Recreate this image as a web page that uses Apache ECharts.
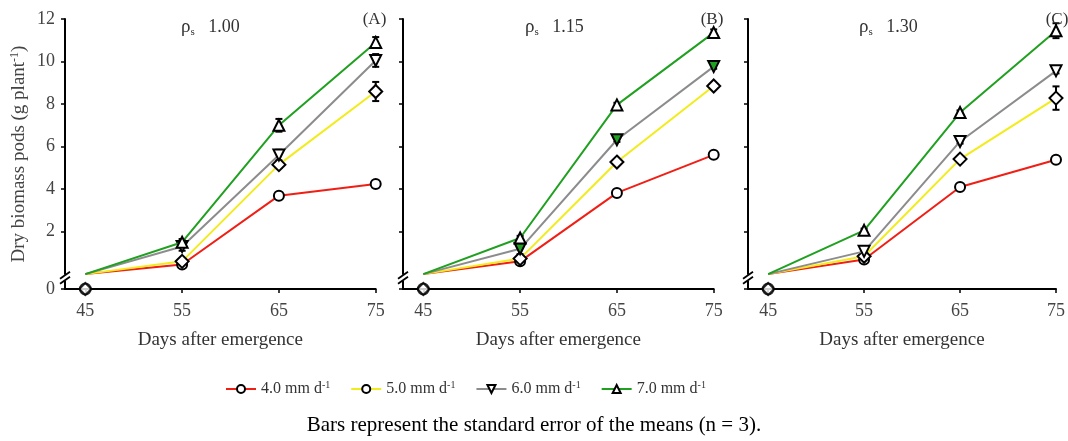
<!DOCTYPE html>
<html><head><meta charset="utf-8">
<script src="https://cdn.jsdelivr.net/npm/echarts@6/dist/echarts.min.js"></script>
<style>html,body{margin:0;padding:0;background:#fff}#c{width:1068px;height:441px}</style>
</head><body><div id="c"></div>
<script>
// ---------- data ----------
const days = [45, 55, 65, 75];
const dayTicks = [45, 55, 65, 75];
const yTicks = [0, 2, 4, 6, 8, 10, 12];
const seriesNames = ['4.0 mm d-1', '5.0 mm d-1', '6.0 mm d-1', '7.0 mm d-1'];
const panelRho = ['1.00', '1.15', '1.30'];
const panelLetters = ['(A)', '(B)', '(C)'];
const footnote = 'Bars represent the standard error of the means (n = 3).';

// Panel A (rho_s 1.00)
const a40 = [0, 0.45, 3.69, 4.24];
const a50 = [0, 0.6, 5.15, 8.59];
const a60 = [0, 1.3, 5.6, 10.05];
const a70 = [0, 1.5, 7.0, 10.9];
const a40Err = [0, 0.08, 0.08, 0.08];
const a50Err = [0, 0.08, 0.15, 0.45];
const a60Err = [0, 0.2, 0.25, 0.3];
const a70Err = [0, 0.15, 0.3, 0.25];
// Panel B (rho_s 1.15)
const b40 = [0, 0.6, 3.82, 5.61];
const b50 = [0, 0.73, 5.27, 8.85];
const b60 = [0, 1.19, 6.32, 9.76];
const b70 = [0, 1.7, 7.96, 11.36];
const b40Err = [0, 0.1, 0.15, 0.08];
const b50Err = [0, 0.08, 0.1, 0.1];
const b60Err = [0, 0.25, 0.1, 0.1];
const b70Err = [0, 0.1, 0.1, 0.15];
// Panel C (rho_s 1.30)
const c40 = [0, 0.69, 4.1, 5.38];
const c50 = [0, 0.84, 5.41, 8.28];
const c60 = [0, 1.07, 6.24, 9.56];
const c70 = [0, 2.06, 7.6, 11.45];
const c40Err = [0, 0.08, 0.08, 0.08];
const c50Err = [0, 0.08, 0.1, 0.55];
const c60Err = [0, 0.1, 0.1, 0.12];
const c70Err = [0, 0.08, 0.1, 0.35];

const panels = [
  {vals: [a40, a50, a60, a70], errs: [a40Err, a50Err, a60Err, a70Err]},
  {vals: [b40, b50, b60, b70], errs: [b40Err, b50Err, b60Err, b70Err]},
  {vals: [c40, c50, c60, c70], errs: [c40Err, c50Err, c60Err, c70Err]}
];

// ---------- style ----------
const FONT = '"Liberation Serif", "Times New Roman", serif';
const Y_MIN = -0.7;   // broken-axis bottom where the "0" label sits
const X_MIN = 42.9;
const colors = ['#f01e14', '#f2ec1c', '#8c8c8c', '#20a020'];
const symbols = ['circle', 'diamond', 'triangle', 'triangle'];
const symbolSizes = [10, 13, 11, 11];
const legendSymbols = ['circle', 'circle', 'triangle', 'triangle'];
const rotates = [0, 0, 180, 0];
const gridLefts = [65, 403, 748];
const GRID_W = 310.7, GRID_TOP = 19, GRID_H = 270;
// marker fill per panel (6.0 series is green-filled in panel B)
const markerFill = [
  ['#fff', '#fff', '#fff', '#fff'],
  ['#fff', '#fff', '#20a020', '#fff'],
  ['#fff', '#fff', '#fff', '#fff']
];

const grids = gridLefts.map(l => ({left: l, top: GRID_TOP, width: GRID_W, height: GRID_H}));
const xAxes = gridLefts.map((l, i) => ({
  type: 'value', gridIndex: i, min: X_MIN, max: 75,
  name: 'Days after emergence', nameLocation: 'middle', nameGap: 42,
  nameTextStyle: {fontFamily: FONT, fontSize: 19, color: '#333'},
  axisLine: {onZero: false, lineStyle: {color: '#000', width: 2}},
  axisTick: {show: true, customValues: dayTicks, length: 4, lineStyle: {color: '#000', width: 1.5}},
  axisLabel: {customValues: dayTicks, margin: 13, fontFamily: FONT, fontSize: 18, color: '#444'},
  splitLine: {show: false}
}));
const yCustom = yTicks.map(v => v === 0 ? Y_MIN : v);
const yAxes = gridLefts.map((l, i) => ({
  type: 'value', gridIndex: i, min: Y_MIN, max: 12,
  name: i === 0 ? 'Dry biomass pods (g plant{sup|-1}{t|)}' : '',
  nameLocation: 'middle', nameGap: 35,
  nameTextStyle: {fontFamily: FONT, fontSize: 19, color: '#444',
    rich: {sup: {fontFamily: FONT, fontSize: 12, color: '#444', padding: [0, 0, 9, 0]},
           t: {fontFamily: FONT, fontSize: 19, color: '#444'}}},
  axisLine: {onZero: false, lineStyle: {color: '#000', width: 2}},
  axisTick: {show: true, customValues: yCustom, length: 4, lineStyle: {color: '#000', width: 1.5}},
  axisLabel: {show: i === 0, customValues: yCustom, margin: 10, fontFamily: FONT, fontSize: 18, color: '#444',
    formatter: v => v < 0 ? '0' : String(Math.round(v))},
  splitLine: {show: false}
}));

const series = [];
// legend-only series (first with each name, so the legend takes their icons)
seriesNames.forEach((n, k) => {
  series.push({
    type: 'line', name: n, xAxisIndex: 0, yAxisIndex: 0, data: [],
    symbol: legendSymbols[k], symbolSize: 8, symbolRotate: rotates[k],
    lineStyle: {color: colors[k], width: 2},
    itemStyle: {color: '#fff', borderColor: '#000', borderWidth: 2}
  });
});

panels.forEach((p, pi) => {
  p.vals.forEach((vals, k) => {
    // error bars
    series.push({
      type: 'custom', name: seriesNames[k], xAxisIndex: pi, yAxisIndex: pi, z: 3,
      data: days.map((d, i) => [d, vals[i], p.errs[k][i]]).filter(r => r[2] > 0 && r[1] > 0),
      renderItem: (params, api) => {
        const x = api.value(0), y = api.value(1), e = api.value(2);
        const hi = api.coord([x, y + e]), lo = api.coord([x, y - e]);
        const cw = 3.5, st = {stroke: '#000', lineWidth: 2};
        return {type: 'group', children: [
          {type: 'line', shape: {x1: hi[0], y1: hi[1], x2: lo[0], y2: lo[1]}, style: st},
          {type: 'line', shape: {x1: hi[0] - cw, y1: hi[1], x2: hi[0] + cw, y2: hi[1]}, style: st},
          {type: 'line', shape: {x1: lo[0] - cw, y1: lo[1], x2: lo[0] + cw, y2: lo[1]}, style: st}
        ]};
      },
      silent: true
    });
    // line
    series.push({
      type: 'line', name: seriesNames[k], xAxisIndex: pi, yAxisIndex: pi, z: 4 + k,
      data: days.map((d, i) => ({value: [d, vals[i]], symbol: i === 0 ? 'none' : symbols[k]})),
      symbolSize: symbolSizes[k], symbolRotate: rotates[k],
      lineStyle: {color: colors[k], width: 2},
      itemStyle: {color: markerFill[pi][k], borderColor: '#000', borderWidth: 2}
    });
    // day-45 zero value drawn below the axis break
    if (k < 2) {
      series.push({
        type: 'scatter', name: seriesNames[k], xAxisIndex: pi, yAxisIndex: pi, z: 11 - k,
        data: days.map((d, i) => [d, vals[i]]).filter(r => r[1] === 0).map(r => [r[0], Y_MIN]),
        symbol: symbols[k], symbolSize: k === 0 ? 11 : 12,
        itemStyle: {color: k === 0 ? 'rgba(255,255,255,0)' : '#fff', borderColor: '#000', borderWidth: 2}
      });
    }
  });
});

const titles = [];
panelRho.forEach((r, i) => {
  titles.push({
    left: gridLefts[i] + [111, 117, 106][i], top: 11,
    text: '{r|ρ}{s|s}{n|   ' + r + '}',
    textStyle: {fontWeight: 'normal', rich: {
      r: {fontFamily: FONT, fontSize: 19, fontWeight: 'normal', color: '#333'},
      s: {fontFamily: FONT, fontSize: 11, fontWeight: 'normal', color: '#333', padding: [11, 0, 0, 0]},
      n: {fontFamily: FONT, fontSize: 18, fontWeight: 'normal', color: '#333'}
    }}
  });
  titles.push({
    left: gridLefts[i] + GRID_W - 18, top: 6, text: panelLetters[i],
    textStyle: {fontFamily: FONT, fontSize: 17, fontWeight: 'normal', color: '#333'}
  });
});

const chart = echarts.init(document.getElementById('c'), null, {renderer: 'canvas'});
chart.setOption({
  animation: false,
  backgroundColor: '#fff',
  title: titles,
  grid: grids, xAxis: xAxes, yAxis: yAxes, series: series,
  legend: {
    left: 220, top: 375, itemWidth: 30, itemHeight: 10, itemGap: 20,
    data: seriesNames,
    formatter: n => '{t|' + n.replace(' d-1', ' d') + '}{sup|-1}',
    textStyle: {fontFamily: FONT, fontSize: 16, color: '#333',
      rich: {t: {fontFamily: FONT, fontSize: 16, color: '#333'},
             sup: {fontFamily: FONT, fontSize: 10, color: '#333', padding: [0, 0, 8, 0]}}}
  }
});

// axis break marks "//" on each y-axis, plus the footnote
const graphics = [{
  type: 'text', left: 'center', top: 415,
  style: {text: footnote, font: '21px ' + FONT, fill: '#000'}
}];
gridLefts.forEach((l, i) => {
  const p = chart.convertToPixel({gridIndex: i}, [X_MIN, -0.17]);
  const x = p[0], y = p[1];
  graphics.push({type: 'rect', shape: {x: x - 3, y: y - 3, width: 6, height: 6}, style: {fill: '#fff'}, z: 50});
  graphics.push({type: 'line', shape: {x1: x - 5, y1: y + 1, x2: x + 5, y2: y - 6}, style: {stroke: '#000', lineWidth: 1.8}, z: 51});
  graphics.push({type: 'line', shape: {x1: x - 5, y1: y + 6, x2: x + 5, y2: y - 1}, style: {stroke: '#000', lineWidth: 1.8}, z: 51});
});
chart.setOption({graphic: graphics});
</script></body></html>
